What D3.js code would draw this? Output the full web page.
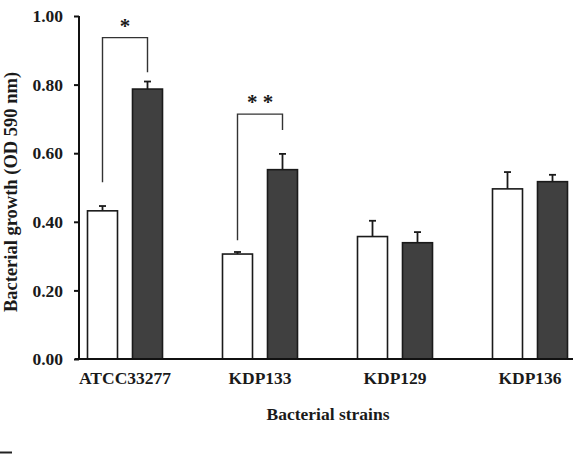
<!DOCTYPE html>
<html>
<head>
<meta charset="utf-8">
<script src="https://cdn.jsdelivr.net/npm/d3@7"></script>
<style>
  body { margin: 0; background: #fff; }
  svg { display: block; }
  text { font-family: "Liberation Serif", "Times New Roman", serif; font-weight: bold; fill: #1a1a1a; }
</style>
</head>
<body>
<div id="chart"></div>
<script>
// strains on the x axis
const strains = ['ATCC33277', 'KDP133', 'KDP129', 'KDP136'];
// white bars (control) and dark bars (treated)
const controlValues = [0.432, 0.306, 0.357, 0.496];
const controlErrors = [0.014, 0.006, 0.046, 0.049];
const treatedValues = [0.787, 0.552, 0.339, 0.517];
const treatedErrors = [0.022, 0.046, 0.031, 0.020];
const yTicks = [0, 0.2, 0.4, 0.6, 0.8, 1.0];
// significance brackets: strain, label, bracket top, left leg end, right leg end
const sigStrains = ['ATCC33277', 'KDP133'];
const sigLabels = ['*', '* *'];
const sigTop = [0.937, 0.714];
const sigLeftEnd = [0.515, 0.346];
const sigRightEnd = [0.836, 0.668];

const width = 573, height = 455;
const margin = { top: 16, left: 79, bottom: 96 };

const svg = d3.select('#chart').append('svg')
  .attr('width', width)
  .attr('height', height);

// groups are spaced wider than the visible area, the original is cut on the right
const x = d3.scaleBand()
  .domain(strains)
  .range([57.5, 597.5])
  .paddingInner(0)
  .paddingOuter(0);

const y = d3.scaleLinear()
  .domain([0, 1])
  .range([height - margin.bottom, margin.top]);

const barW = 30, gap = 15;
const cx = d => x(d) + x.bandwidth() / 2;

const bars = [];
strains.forEach((s, i) => {
  bars.push({ strain: s, v: controlValues[i], e: controlErrors[i], x0: cx(s) - gap / 2 - barW, fill: '#fff' });
  bars.push({ strain: s, v: treatedValues[i], e: treatedErrors[i], x0: cx(s) + gap / 2, fill: '#404040' });
});

svg.append('g')
  .selectAll('rect')
  .data(bars)
  .join('rect')
  .attr('x', d => d.x0)
  .attr('y', d => y(d.v))
  .attr('width', barW)
  .attr('height', d => y(0) - y(d.v))
  .attr('fill', d => d.fill)
  .attr('stroke', '#1a1a1a')
  .attr('stroke-width', 1.6);

// error bars (upper only)
const err = svg.append('g').attr('stroke', '#1a1a1a').attr('stroke-width', 1.8);
err.selectAll('line.v')
  .data(bars)
  .join('line')
  .attr('class', 'v')
  .attr('x1', d => d.x0 + barW / 2)
  .attr('x2', d => d.x0 + barW / 2)
  .attr('y1', d => y(d.v))
  .attr('y2', d => y(d.v + d.e));
err.selectAll('line.cap')
  .data(bars)
  .join('line')
  .attr('class', 'cap')
  .attr('x1', d => d.x0 + barW / 2 - 3.5)
  .attr('x2', d => d.x0 + barW / 2 + 3.5)
  .attr('y1', d => y(d.v + d.e))
  .attr('y2', d => y(d.v + d.e));

// y axis
const yAxis = svg.append('g')
  .attr('transform', 'translate(' + margin.left + ',0)')
  .call(d3.axisLeft(y).tickValues(yTicks).tickFormat(d3.format('.2f')).tickSize(5).tickPadding(11));
yAxis.select('.domain').attr('d', 'M0,' + y(1) + 'V' + y(0)).attr('stroke-width', 2).attr('stroke', '#111');
yAxis.selectAll('.tick line').attr('stroke-width', 2).attr('stroke', '#111');
yAxis.selectAll('.tick text')
  .attr('font-size', 17.5)
  .attr('font-family', '"Liberation Serif", serif')
  .attr('font-weight', 'bold')
  .attr('fill', '#1a1a1a');

// x axis
const xAxis = svg.append('g')
  .attr('transform', 'translate(0,' + y(0) + ')')
  .call(d3.axisBottom(x).tickSize(0).tickPadding(13));
xAxis.select('.domain').attr('d', 'M75,0H' + width).attr('stroke-width', 2).attr('stroke', '#111');
xAxis.selectAll('.tick text')
  .attr('font-size', 17.5)
  .attr('font-family', '"Liberation Serif", serif')
  .attr('font-weight', 'bold')
  .attr('fill', '#1a1a1a');

// axis titles
svg.append('text')
  .attr('x', 328)
  .attr('y', 420)
  .attr('text-anchor', 'middle')
  .attr('font-size', 17.5)
  .text('Bacterial strains');

svg.append('text')
  .attr('transform', 'translate(17,192) rotate(-90)')
  .attr('text-anchor', 'middle')
  .attr('font-size', 18.5)
  .text('Bacterial growth (OD 590 nm)');

// significance brackets
const sig = svg.append('g');
sigStrains.forEach((s, i) => {
  const lx = cx(s) - gap / 2 - barW / 2;
  const rx = cx(s) + gap / 2 + barW / 2;
  sig.append('path')
    .attr('d', 'M' + lx + ',' + y(sigLeftEnd[i]) + 'V' + y(sigTop[i]) + 'H' + rx + 'V' + y(sigRightEnd[i]))
    .attr('fill', 'none')
    .attr('stroke', '#333')
    .attr('stroke-width', 1.4);
  sig.append('text')
    .attr('x', cx(s))
    .attr('y', y(sigTop[i]) - 5)
    .attr('text-anchor', 'middle')
    .attr('font-family', '"DejaVu Sans", sans-serif')
    .attr('font-weight', 'normal')
    .attr('font-size', 21)
    .attr('fill', '#333')
    .text(sigLabels[i]);
});

// small stray mark in the lower left corner of the original
svg.append('line')
  .attr('x1', 0).attr('x2', 12)
  .attr('y1', 452.5).attr('y2', 452.5)
  .attr('stroke', '#222')
  .attr('stroke-width', 2);
</script>
</body>
</html>
